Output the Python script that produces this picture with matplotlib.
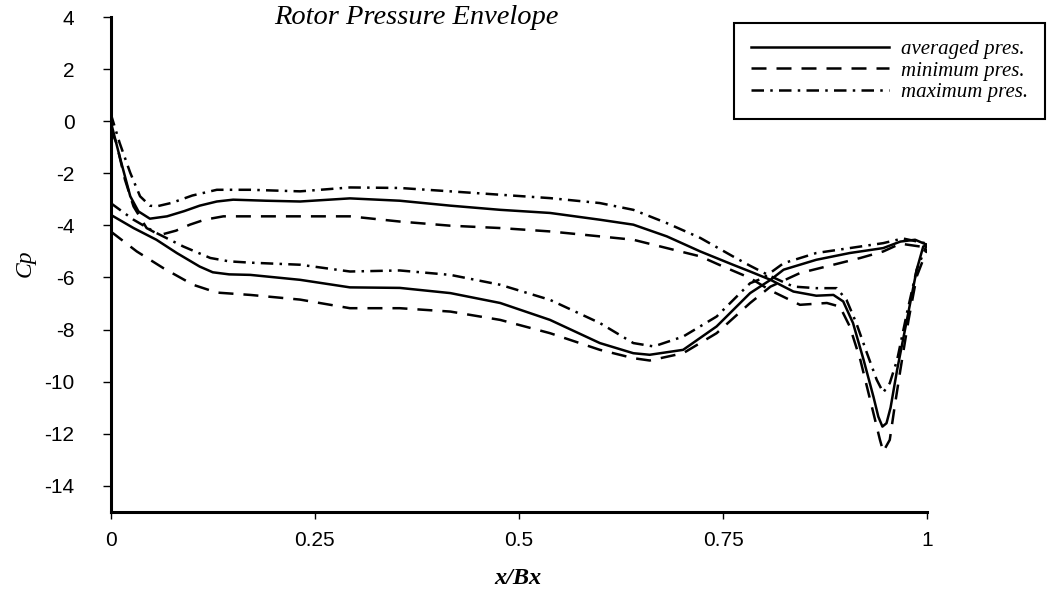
import matplotlib
matplotlib.use("Agg")
import matplotlib.pyplot as plt

# values, Cp against x/Bx
# each curve is a loop: upper branch and lower branch, both from x=0 to x=1
avg_upper_x = [0, 0.011, 0.024, 0.034, 0.048, 0.069, 0.090, 0.109, 0.130, 0.150, 0.190, 0.232,
               0.293, 0.354, 0.416, 0.477, 0.538, 0.599, 0.640, 0.681, 0.722, 0.762, 0.783,
               0.808, 0.836, 0.864, 0.885, 0.897, 0.909, 0.922, 0.934, 0.940, 0.945, 0.950,
               0.955, 0.963, 0.975, 0.987, 0.995, 1.0]
avg_upper_cp = [0.0, -1.35, -2.88, -3.46, -3.74, -3.65, -3.45, -3.24, -3.08, -3.01, -3.05, -3.08,
                -2.96, -3.05, -3.24, -3.40, -3.52, -3.78, -3.97, -4.42, -5.00, -5.51, -5.77,
                -6.09, -6.54, -6.70, -6.67, -6.92, -7.75, -9.17, -10.58, -11.35, -11.73, -11.60,
                -11.00, -9.55, -7.63, -5.70, -4.81, -4.75]
avg_lower_x = [0, 0.028, 0.056, 0.081, 0.109, 0.125, 0.145, 0.171, 0.232, 0.293, 0.354, 0.416,
               0.477, 0.538, 0.599, 0.640, 0.660, 0.701, 0.742, 0.783, 0.808, 0.824, 0.864,
               0.905, 0.946, 0.967, 0.985, 1.0]
avg_lower_cp = [-3.59, -4.10, -4.55, -5.06, -5.58, -5.80, -5.88, -5.90, -6.09, -6.38, -6.40, -6.60,
                -6.98, -7.63, -8.52, -8.91, -8.97, -8.78, -7.88, -6.60, -6.09, -5.70, -5.32,
                -5.06, -4.87, -4.62, -4.55, -4.75]

min_upper_x = [0, 0.007, 0.0175, 0.028, 0.044, 0.060, 0.080, 0.097, 0.115, 0.138, 0.232, 0.293,
               0.354, 0.416, 0.477, 0.538, 0.599, 0.640, 0.681, 0.722, 0.750, 0.783, 0.808,
               0.844, 0.877, 0.893, 0.905, 0.918, 0.930, 0.942, 0.946, 0.954, 0.960, 0.967,
               0.977, 0.987, 1.0]
min_upper_cp = [-0.3, -0.83, -2.24, -3.27, -4.10, -4.37, -4.20, -3.97, -3.78, -3.65, -3.65, -3.65,
                -3.85, -4.01, -4.10, -4.23, -4.42, -4.55, -4.87, -5.19, -5.58, -6.02, -6.50,
                -7.05, -6.98, -7.12, -7.88, -9.17, -10.70, -12.24, -12.69, -12.24, -10.96, -9.55,
                -7.63, -5.96, -4.90]
min_lower_x = [0, 0.032, 0.065, 0.101, 0.130, 0.171, 0.232, 0.293, 0.354, 0.416, 0.477, 0.538,
               0.599, 0.640, 0.660, 0.701, 0.742, 0.783, 0.808, 0.844, 0.885, 0.918, 0.946,
               0.967, 1.0]
min_lower_cp = [-4.23, -5.00, -5.65, -6.28, -6.58, -6.67, -6.85, -7.18, -7.18, -7.31, -7.63, -8.14,
                -8.78, -9.10, -9.19, -8.91, -8.14, -6.98, -6.35, -5.83, -5.51, -5.25, -5.00,
                -4.70, -4.85]

max_upper_x = [0, 0.011, 0.024, 0.036, 0.048, 0.056, 0.075, 0.100, 0.130, 0.171, 0.232, 0.293,
               0.354, 0.416, 0.477, 0.538, 0.599, 0.640, 0.681, 0.722, 0.762, 0.783, 0.808,
               0.836, 0.864, 0.889, 0.901, 0.913, 0.926, 0.938, 0.946, 0.954, 0.963, 0.975,
               0.987, 1.0]
max_upper_cp = [0.3, -0.83, -1.98, -2.88, -3.24, -3.27, -3.13, -2.85, -2.63, -2.63, -2.69, -2.54,
                -2.56, -2.69, -2.82, -2.95, -3.14, -3.40, -3.91, -4.48, -5.19, -5.55, -5.95,
                -6.35, -6.41, -6.41, -6.86, -7.75, -8.90, -9.93, -10.42, -10.06, -9.17, -7.37,
                -5.70, -4.70]
max_lower_x = [0, 0.028, 0.056, 0.089, 0.122, 0.145, 0.171, 0.232, 0.293, 0.354, 0.416, 0.477,
               0.538, 0.599, 0.640, 0.665, 0.701, 0.742, 0.783, 0.799, 0.824, 0.864, 0.905,
               0.946, 0.970, 1.0]
max_lower_cp = [-3.14, -3.78, -4.29, -4.81, -5.25, -5.38, -5.43, -5.51, -5.77, -5.73, -5.90, -6.28,
                -6.86, -7.75, -8.52, -8.65, -8.27, -7.50, -6.22, -6.02, -5.45, -5.06, -4.87,
                -4.68, -4.50, -4.70]

series_labels = ["averaged pres.", "minimum pres.", "maximum pres."]
x_ticks = [0, 0.25, 0.5, 0.75, 1]
x_tick_labels = ["0", "0.25", "0.5", "0.75", "1"]
y_ticks = [4, 2, 0, -2, -4, -6, -8, -10, -12, -14]

SERIF = "Liberation Serif"
SANS = "Liberation Sans"
LW = 1.8
STYLES = ["-", (0, (6, 4)), (0, (5, 2.5, 1, 2.5))]

plt.rcParams["axes.unicode_minus"] = False

fig = plt.figure(figsize=(10.47, 5.95), dpi=100)
ax = fig.add_axes([0.1057, 0.1400, 0.7800, 0.8310])

curves = [
    (avg_upper_x, avg_upper_cp, avg_lower_x, avg_lower_cp),
    (min_upper_x, min_upper_cp, min_lower_x, min_lower_cp),
    (max_upper_x, max_upper_cp, max_lower_x, max_lower_cp),
]
for (ux, ucp, lx, lcp), style, label in zip(curves, STYLES, series_labels):
    ax.plot(ux, ucp, color="black", lw=LW, ls=style, label=label)
    ax.plot(lx, lcp, color="black", lw=LW, ls=style)

ax.set_xlim(0, 1)
ax.set_ylim(-15, 4)
ax.set_xticks(x_ticks)
ax.set_xticklabels(x_tick_labels)
ax.set_yticks(y_ticks)
ax.set_yticklabels([str(v) for v in y_ticks])

for side in ("top", "right"):
    ax.spines[side].set_visible(False)
for side in ("left", "bottom"):
    ax.spines[side].set_linewidth(2.2)

ax.tick_params(axis="y", direction="out", length=6, width=1, pad=20,
               labelsize=15)
ax.tick_params(axis="x", direction="out", length=5, width=1, pad=9,
               labelsize=15)
for lab in ax.get_xticklabels() + ax.get_yticklabels():
    lab.set_fontfamily(SANS)

fig.text(25 / 1047, 1 - 263 / 595, "Cp", rotation=90, ha="center", va="center",
         fontsize=17, fontfamily=SERIF, fontstyle="italic")
fig.text(518 / 1047, 1 - 578 / 595, "x/Bx", ha="center", va="center", fontsize=17.5,
         fontfamily=SERIF, fontstyle="italic", fontweight="bold")
fig.text(416 / 1047, 1 - 18 / 595, "Rotor Pressure Envelope", ha="center", va="center",
         fontsize=20.5, fontfamily=SERIF, fontstyle="italic")

leg = fig.legend(loc="upper right", bbox_to_anchor=(0.998, 0.961),
                 prop={"family": SERIF, "style": "italic", "size": 15},
                 handlelength=6.6, handletextpad=0.6, labelspacing=0.08,
                 borderpad=0.8, borderaxespad=0, frameon=True, fancybox=False,
                 framealpha=1)
leg.get_frame().set_edgecolor("black")
leg.get_frame().set_linewidth(1.5)

fig.savefig("out.png", dpi=100)
